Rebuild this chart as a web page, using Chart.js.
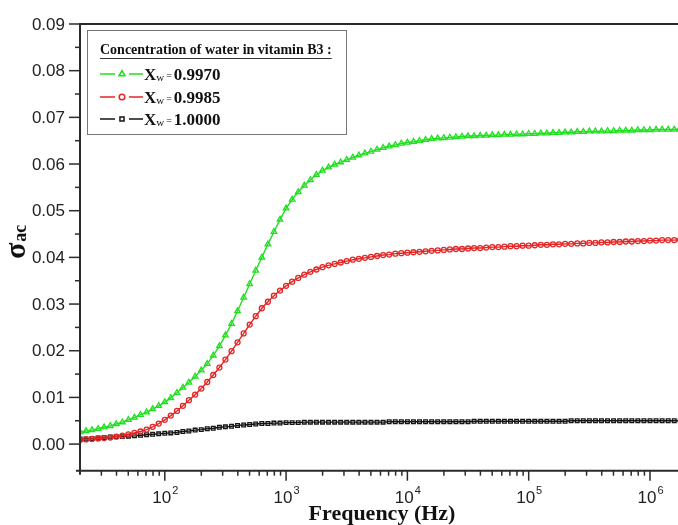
<!DOCTYPE html>
<html lang="en">
<head>
<meta charset="UTF-8">
<title>Sigma ac x Frequency</title>
<script src="https://cdn.jsdelivr.net/npm/chart.js"></script>
<style>
    html, body { margin: 0; padding: 0; background: #fff; overflow: hidden; }
    #wrap { width: 700px; height: 525px; }
</style>
</head>
<body>
<div id="wrap"><canvas id="grafico" width="700" height="525"></canvas></div>
<script>
// frequencias (Hz), 20 pontos por decada
const freq = [
    20, 22.4, 25.1, 28.2, 31.6, 35.5, 39.8, 44.7, 50.1, 56.2, 63.1, 70.8, 79.4, 89.1,
    100, 112, 126, 141, 158, 178, 200, 224, 251, 282, 316, 355, 398, 447, 501, 562, 631, 708, 794, 891,
    1000, 1122, 1259, 1413, 1585, 1778, 1995, 2239, 2512, 2818, 3162, 3548, 3981, 4467, 5012, 5623, 6310, 7079, 7943, 8913,
    10000, 11220, 12589, 14125, 15849, 17783, 19953, 22387, 25119, 28184, 31623, 35481, 39811, 44668, 50119, 56234, 63096, 70795, 79433, 89125,
    100000, 112202, 125893, 141254, 158489, 177828, 199526, 223872, 251189, 281838, 316228, 354813, 398107, 446684, 501187, 562341, 630957, 707946, 794328, 891251,
    1000000, 1122018, 1258925, 1412538, 1584893, 1778279, 1995262
];

// Xw = 0.9970
const sigma9970 = [
    0.0026, 0.0028, 0.0030, 0.0033, 0.0036, 0.0039, 0.0043, 0.0047, 0.0052, 0.0057, 0.0063, 0.0068, 0.0075, 0.0082,
    0.0090, 0.0099, 0.0110, 0.0121, 0.0132, 0.0145, 0.0158, 0.0172, 0.0190, 0.0210, 0.0233, 0.0258, 0.0285, 0.0314, 0.0343, 0.0372, 0.0400, 0.0428, 0.0455, 0.0481,
    0.0505, 0.0524, 0.0540, 0.0554, 0.0566, 0.0577, 0.0586, 0.0593, 0.0599, 0.0604, 0.0609, 0.0614, 0.0619, 0.0623, 0.0627, 0.0631, 0.0635, 0.0638, 0.0641, 0.0644,
    0.0646, 0.0648, 0.0650, 0.0652, 0.0654, 0.0655, 0.0656, 0.0657, 0.0658, 0.0659, 0.0660, 0.0660, 0.0661, 0.0661, 0.0662, 0.0662, 0.0663, 0.0663, 0.0664, 0.0664,
    0.0665, 0.0665, 0.0666, 0.0666, 0.0667, 0.0667, 0.0668, 0.0668, 0.0669, 0.0669, 0.0670, 0.0670, 0.0670, 0.0671, 0.0671, 0.0672, 0.0672, 0.0672, 0.0673, 0.0673,
    0.0673, 0.0674, 0.0674, 0.0674, 0.0674, 0.0675, 0.0675
];

// Xw = 0.9985
const sigma9985 = [
    0.0009, 0.0010, 0.0011, 0.0012, 0.0013, 0.0014, 0.0016, 0.0018, 0.0021, 0.0024, 0.0027, 0.0031, 0.0037, 0.0044,
    0.0052, 0.0061, 0.0071, 0.0082, 0.0094, 0.0106, 0.0119, 0.0133, 0.0148, 0.0164, 0.0181, 0.0199, 0.0218, 0.0237, 0.0256, 0.0274, 0.0291, 0.0305, 0.0318, 0.0329,
    0.0339, 0.0348, 0.0356, 0.0363, 0.0369, 0.0374, 0.0379, 0.0383, 0.0386, 0.0389, 0.0392, 0.0395, 0.0397, 0.0399, 0.0401, 0.0403, 0.0405, 0.0406, 0.0408, 0.0409,
    0.0410, 0.0411, 0.0412, 0.0413, 0.0414, 0.0415, 0.0416, 0.0417, 0.0418, 0.0418, 0.0419, 0.0420, 0.0420, 0.0421, 0.0422, 0.0422, 0.0423, 0.0424, 0.0424, 0.0425,
    0.0425, 0.0426, 0.0427, 0.0427, 0.0428, 0.0428, 0.0429, 0.0429, 0.0430, 0.0430, 0.0431, 0.0431, 0.0432, 0.0432, 0.0433, 0.0433, 0.0434, 0.0434, 0.0435, 0.0435,
    0.0436, 0.0436, 0.0437, 0.0437, 0.0437, 0.0438, 0.0438
];

// Xw = 1.0000
const sigma10000 = [
    0.0011, 0.0011, 0.0012, 0.0013, 0.0014, 0.0015, 0.0016, 0.0016, 0.0017, 0.0018, 0.0019, 0.0020, 0.0021, 0.0022,
    0.0023, 0.0024, 0.0025, 0.0027, 0.0028, 0.0030, 0.0031, 0.0033, 0.0034, 0.0036, 0.0037, 0.0038, 0.0040, 0.0041, 0.0042, 0.0043, 0.0044, 0.0044, 0.0045, 0.0045,
    0.0046, 0.0046, 0.0046, 0.0047, 0.0047, 0.0047, 0.0047, 0.0047, 0.0047, 0.0047, 0.0047, 0.0047, 0.0047, 0.0047, 0.0047, 0.0047, 0.0047, 0.0048, 0.0048, 0.0048,
    0.0048, 0.0048, 0.0048, 0.0048, 0.0048, 0.0048, 0.0048, 0.0048, 0.0048, 0.0048, 0.0048, 0.0049, 0.0049, 0.0049, 0.0049, 0.0049, 0.0049, 0.0049, 0.0049, 0.0049,
    0.0049, 0.0049, 0.0049, 0.0049, 0.0049, 0.0049, 0.0049, 0.0050, 0.0050, 0.0050, 0.0050, 0.0050, 0.0050, 0.0050, 0.0050, 0.0050, 0.0050, 0.0050, 0.0050, 0.0050,
    0.0050, 0.0050, 0.0050, 0.0050, 0.0050, 0.0050, 0.0050
];

const rotulos = ['0.9970', '0.9985', '1.0000'];
const cores = ['#1fe01f', '#e32626', '#151515'];
const marcadores = ['triangle', 'circle', 'rect'];
const raios = [3.2, 2.5, 2.6];

const yTicks = [0.00, 0.01, 0.02, 0.03, 0.04, 0.05, 0.06, 0.07, 0.08, 0.09];
const yMinor = [0.005, 0.015, 0.025, 0.035, 0.045, 0.055, 0.065, 0.075, 0.085];
const xExpoentes = [2, 3, 4, 5, 6];
const xMinorMult = [2, 3, 4, 5, 6, 7, 8, 9];

const tituloLegenda = 'Concentration of water in vitamin B3 :';
const tituloX = 'Frequency (Hz)';

const series = [sigma9970, sigma9985, sigma10000];

const datasets = series.map((valores, i) => ({
    label: 'Xw = ' + rotulos[i],
    data: freq.map((f, j) => ({ x: f, y: valores[j] })),
    borderColor: cores[i],
    backgroundColor: 'rgba(0,0,0,0)',
    pointBorderColor: cores[i],
    pointBackgroundColor: 'rgba(255,255,255,0)',
    pointStyle: marcadores[i],
    pointRadius: raios[i],
    pointBorderWidth: 1.3,
    borderWidth: 1.4,
    tension: 0
}));

// eixos, ticks, titulos e legenda desenhados a mao
const eixosPlugin = {
    id: 'eixos',
    afterDraw(chart) {
        const ctx = chart.ctx;
        const a = chart.chartArea;
        const xs = chart.scales.x;
        const ys = chart.scales.y;
        ctx.save();

        // moldura
        ctx.strokeStyle = '#2b2b2b';
        ctx.lineWidth = 2;
        ctx.beginPath();
        ctx.moveTo(a.left, a.bottom + 4);
        ctx.lineTo(a.left, a.top);
        ctx.lineTo(a.right, a.top);
        ctx.lineTo(a.right, a.bottom);
        ctx.lineTo(a.left - 4, a.bottom);
        ctx.stroke();

        // ticks y
        ctx.lineWidth = 1.5;
        ctx.fillStyle = '#222';
        ctx.font = "17px 'Liberation Sans', Arial, sans-serif";
        ctx.textAlign = 'right';
        ctx.textBaseline = 'middle';
        yTicks.forEach(v => {
            const py = ys.getPixelForValue(v);
            ctx.beginPath();
            ctx.moveTo(a.left - 11, py);
            ctx.lineTo(a.left, py);
            ctx.stroke();
            ctx.fillText(v.toFixed(2), a.left - 15, py + 1);
        });
        yMinor.forEach(v => {
            const py = ys.getPixelForValue(v);
            ctx.beginPath();
            ctx.moveTo(a.left - 5, py);
            ctx.lineTo(a.left, py);
            ctx.stroke();
        });

        // ticks x
        ctx.textAlign = 'left';
        ctx.textBaseline = 'alphabetic';
        xExpoentes.forEach(e => {
            const px = xs.getPixelForValue(Math.pow(10, e));
            ctx.beginPath();
            ctx.moveTo(px, a.bottom);
            ctx.lineTo(px, a.bottom + 10);
            ctx.stroke();
            ctx.font = "17px 'Liberation Sans', Arial, sans-serif";
            const w1 = ctx.measureText('10').width;
            ctx.font = "11px 'Liberation Sans', Arial, sans-serif";
            const w2 = ctx.measureText(String(e)).width;
            const x0 = px - (w1 + w2) / 2;
            ctx.font = "17px 'Liberation Sans', Arial, sans-serif";
            ctx.fillText('10', x0, 503);
            ctx.font = "11px 'Liberation Sans', Arial, sans-serif";
            ctx.fillText(String(e), x0 + w1 + 1, 494);
        });
        for (let e = 1; e <= 6; e++) {
            xMinorMult.forEach(m => {
                const v = m * Math.pow(10, e);
                if (v <= xs.min || v >= xs.max) return;
                const px = xs.getPixelForValue(v);
                ctx.beginPath();
                ctx.moveTo(px, a.bottom);
                ctx.lineTo(px, a.bottom + 5);
                ctx.stroke();
            });
        }

        // titulo x
        ctx.fillStyle = '#111';
        ctx.font = "bold 22px 'Liberation Serif', 'Times New Roman', serif";
        ctx.textAlign = 'center';
        ctx.fillText(tituloX, 382, 520);

        // titulo y: sigma_ac
        ctx.save();
        ctx.translate(25, 259);
        ctx.rotate(-Math.PI / 2);
        ctx.textAlign = 'left';
        ctx.font = "bold 30px 'Liberation Serif', 'Times New Roman', serif";
        ctx.fillText('σ', 0, 0);
        const ws = ctx.measureText('σ').width;
        ctx.font = "bold 18px 'Liberation Serif', 'Times New Roman', serif";
        ctx.fillText('ac', ws + 1, 1);
        ctx.restore();

        // legenda
        ctx.fillStyle = '#fff';
        ctx.fillRect(87, 30, 259, 104);
        ctx.strokeStyle = '#777';
        ctx.lineWidth = 1;
        ctx.strokeRect(87.5, 30.5, 259, 104);

        ctx.fillStyle = '#111';
        ctx.textAlign = 'left';
        ctx.font = "bold 14px 'Liberation Serif', 'Times New Roman', serif";
        ctx.fillText(tituloLegenda, 100, 54);
        const wt = ctx.measureText(tituloLegenda).width;
        ctx.strokeStyle = '#333';
        ctx.beginPath();
        ctx.moveTo(100, 58.5);
        ctx.lineTo(100 + wt, 58.5);
        ctx.stroke();

        const linhasY = [74, 97, 119];
        datasets.forEach((ds, i) => {
            const y = linhasY[i];
            ctx.strokeStyle = cores[i];
            ctx.lineWidth = 1.3;
            ctx.beginPath();
            ctx.moveTo(100, y);
            ctx.lineTo(115, y);
            ctx.moveTo(129, y);
            ctx.lineTo(143, y);
            ctx.stroke();
            ctx.fillStyle = '#fff';
            ctx.lineWidth = 1.5;
            Chart.helpers.drawPoint(ctx, {
                pointStyle: marcadores[i],
                radius: raios[i] + 0.3,
                borderWidth: 1.5,
                rotation: 0
            }, 122, y);

            ctx.fillStyle = '#111';
            let x = 144;
            ctx.font = "bold 17px 'Liberation Serif', 'Times New Roman', serif";
            ctx.fillText('X', x, y + 6);
            x += ctx.measureText('X').width;
            ctx.font = "11px 'Liberation Serif', 'Times New Roman', serif";
            ctx.fillText('w', x, y + 7);
            x += ctx.measureText('w').width + 2;
            ctx.font = "10px 'Liberation Serif', 'Times New Roman', serif";
            ctx.fillText('=', x, y + 5);
            x += ctx.measureText('=').width + 2;
            ctx.font = "bold 17px 'Liberation Serif', 'Times New Roman', serif";
            ctx.fillText(rotulos[i], x, y + 6);
        });

        ctx.restore();
    }
};

new Chart(document.getElementById('grafico'), {
    type: 'line',
    data: { datasets: datasets },
    options: {
        responsive: false,
        animation: false,
        devicePixelRatio: 1,
        layout: { padding: { left: 80, top: 24, right: 13.5, bottom: 54.3 } },
        plugins: { legend: { display: false }, tooltip: { enabled: false } },
        scales: {
            x: { type: 'logarithmic', min: 20, max: 2000000, display: false },
            y: { type: 'linear', min: -0.0057, max: 0.09, display: false }
        }
    },
    plugins: [eixosPlugin]
});
</script>
</body>
</html>
